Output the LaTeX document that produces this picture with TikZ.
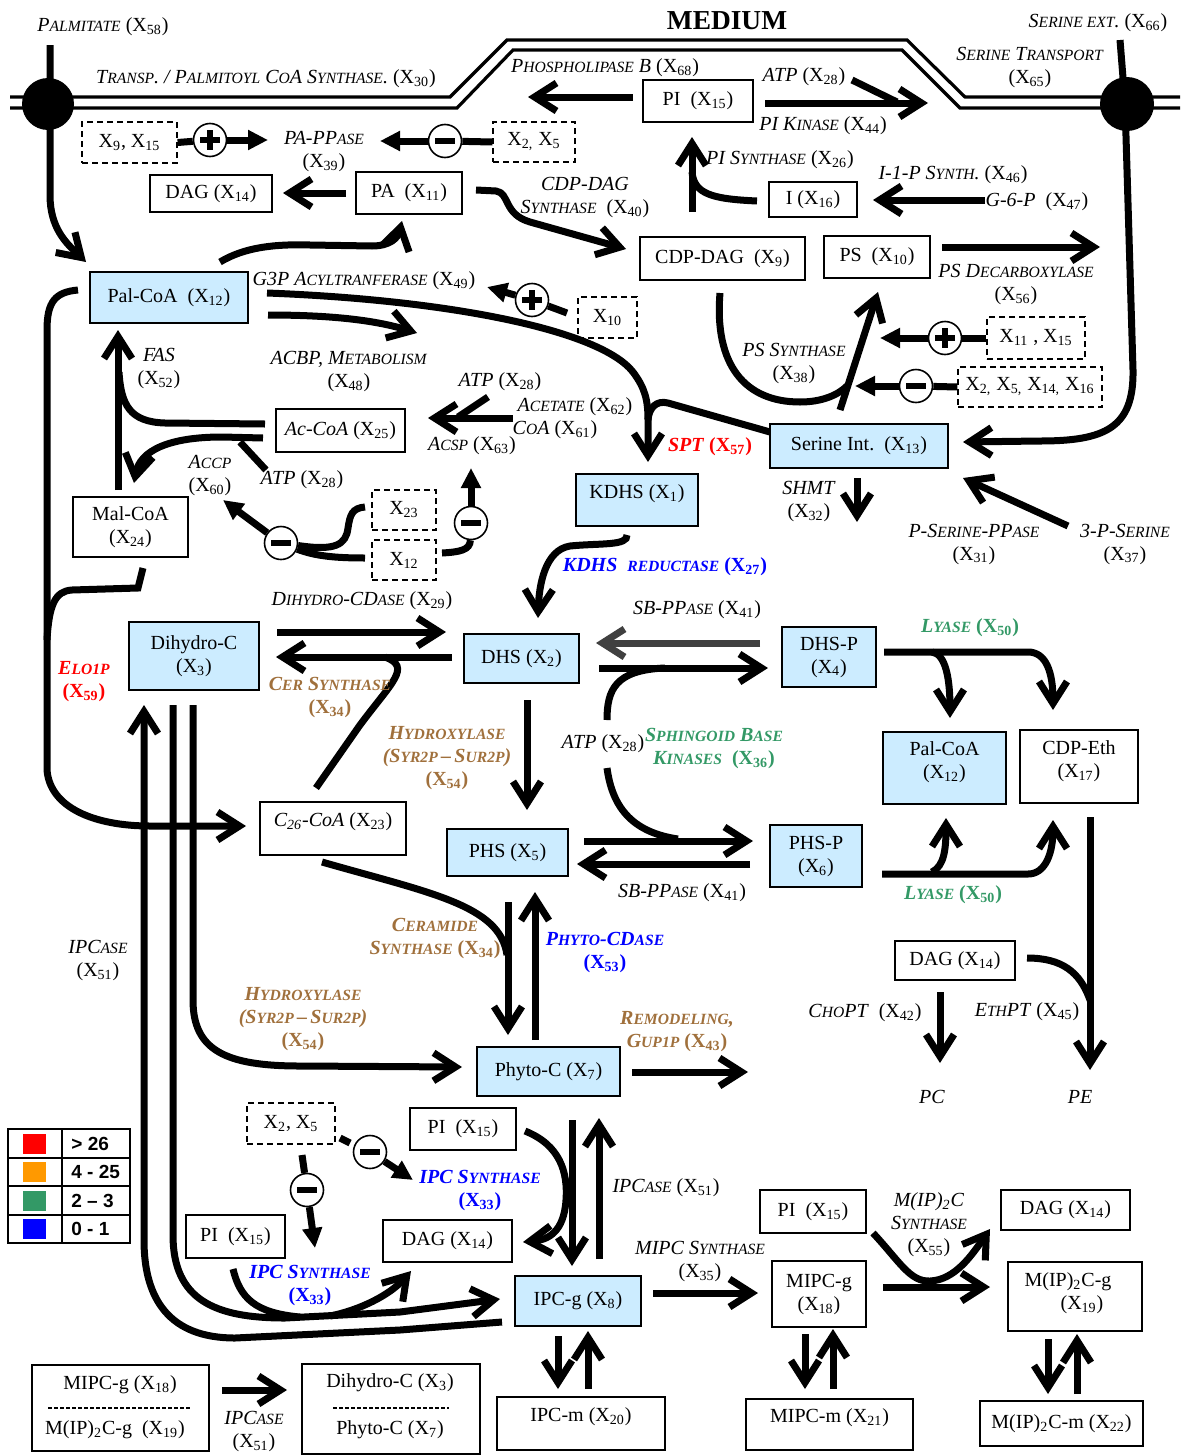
\documentclass[tikz,border=0pt]{standalone}
\usepackage{fontspec}
\setmainfont{Liberation Serif}
\newfontfamily\legfont{Liberation Sans}
\usetikzlibrary{arrows.meta,calc}
\definecolor{boxblue}{HTML}{CCECFF}
\definecolor{myred}{HTML}{FF0000}
\definecolor{mybrown}{HTML}{A0703C}
\definecolor{mygreen}{HTML}{339966}
\definecolor{myblue}{HTML}{0000FF}
\definecolor{myorange}{HTML}{FF9900}
\definecolor{mygray}{HTML}{404040}
\makeatletter
\newcommand\smc[1]{{\fontsize{\fpeval{0.78*\f@size}}{12}\selectfont\MakeUppercase{#1}}}
\makeatother
\newcommand\X[1]{\textup{X\textsubscript{#1}}}
\begin{document}
\begin{tikzpicture}[x=0.5pt,y=-0.5pt,
 wh/.style 2 args={minimum width=#1pt, minimum height=#2pt},
 boxfont/.style={font=\fontsize{10}{11.5}\selectfont},
 bx/.style={draw, line width=0.8pt, boxfont, align=center, inner sep=0pt},
 bbx/.style={bx, fill=boxblue},
 dbox/.style={draw, line width=0.6pt, dash pattern=on 3pt off 2pt, boxfont, inner sep=0pt},
 lab/.style={font=\fontsize{10}{11.5}\selectfont, align=center, inner sep=0pt},
 redlab/.style={lab, text=myred, font=\fontsize{10}{11.5}\selectfont\bfseries},
 bluelab/.style={lab, text=myblue, font=\fontsize{10}{11.5}\selectfont\bfseries},
 brownlab/.style={lab, text=mybrown, font=\fontsize{10}{11.5}\selectfont\bfseries},
 greenlab/.style={lab, text=mygreen, font=\fontsize{10}{11.5}\selectfont\bfseries},
 ln/.style={line width=3.5pt},
 ar/.style={line width=3.5pt, -{Straight Barb[length=11pt,width=14pt]}},
 tri/.style={line width=3.5pt, -{Triangle[length=10pt,width=9.5pt]}},
 pcirc/.style={circle, draw, line width=0.8pt, fill=white, minimum size=16.5pt, inner sep=0pt},
 plusc/.style={pcirc, path picture={\draw[line width=2.6pt] ([xshift=-4.8pt]path picture bounding box.center) -- ([xshift=4.8pt]path picture bounding box.center) ([yshift=-4.8pt]path picture bounding box.center) -- ([yshift=4.8pt]path picture bounding box.center);}},
 minusc/.style={pcirc, path picture={\draw[line width=2.8pt] ([xshift=-5pt]path picture bounding box.center) -- ([xshift=5pt]path picture bounding box.center);}},
 memb/.style={line width=1.6pt},
 legtext/.style={anchor=west, inner sep=0pt, font=\legfont\bfseries\fontsize{9.5}{10}\selectfont}
]
\useasboundingbox (0,0) rectangle (1180,1456);

% ---------- membrane ----------
\draw[memb] (10,97) -- (450,97) -- (507,40) -- (907,40) -- (965,97) -- (1180,97);
\draw[memb] (10,108) -- (457,108) -- (513,50) -- (902,50) -- (960,108) -- (1180,108);
\node[lab, font=\fontsize{13.7}{15}\selectfont\bfseries] (medium) at (727,21) {MEDIUM};

% ---------- boxes ----------
\node[bx, wh={55}{21}] (pi1) at (698,101) {PI~~(\X{15})};
\node[bx, wh={44}{17.5}] (i16) at (813,199.5) {I (\X{16})};
\node[bx, wh={82.5}{21.5}] (cdpdag) at (722.5,258.5) {CDP-DAG~~(\X{9})};
\node[bx, wh={53}{21}] (ps) at (877,257) {PS~~(\X{10})};
\node[bx, wh={61}{18.5}] (dag1) at (211,193.5) {DAG (\X{14})};
\node[bx, wh={53}{21}] (pa) at (409,193) {PA~~(\X{11})};
\node[bbx, wh={79}{25.5}] (palcoa) at (169,297.5) {Pal-CoA~~(\X{12})};
\node[bx, wh={64.5}{21.5}] (accoa) at (340.5,430.5) {\textit{Ac-CoA} (\X{25})};
\node[bx, wh={57.5}{30}] (malcoa) at (130.5,527) {Mal-CoA\\(\X{24})};
\node[bbx, wh={61}{26}, text height=7pt, text depth=9pt] (kdhs) at (637,500) {KDHS (\X{1})};
\node[bbx, wh={89}{22}] (serine) at (859,446) {Serine Int.~~(\X{13})};
\node[bbx, wh={57.5}{24.5}] (dhs) at (521.5,658.5) {DHS (\X{2})};
\node[bbx, wh={65}{34}] (dihydro) at (194,656) {Dihydro-C\\(\X{3})};
\node[bbx, wh={47}{30}] (dhsp) at (829,657) {DHS-P\\(\X{4})};
\node[bbx, wh={61.5}{36}] (palcoa2) at (944.5,768) {};
\node[lab] (palcoa2t) at (944.5,762) {Pal-CoA\\(\X{12})};
\node[bx, wh={59}{36.5}] (cdpeth) at (1079,766.5) {};
\node[lab] (cdpetht) at (1079,761) {CDP-Eth\\(\X{17})};
\node[bx, wh={73}{26.5}, text height=7pt, text depth=9pt] (c26) at (333,828.5) {\textit{C\textsubscript{26}-CoA} (\X{23})};
\node[bbx, wh={60.5}{23.5}] (phs) at (507.5,852.5) {PHS (\X{5})};
\node[bbx, wh={46}{31}] (phsp) at (816,856) {PHS-P\\(\X{6})};
\node[bx, wh={60}{19.5}] (dag2) at (955,960.5) {DAG (\X{14})};
\node[bbx, wh={71.5}{24.5}] (phyto) at (548.5,1071.5) {Phyto-C (\X{7})};
\node[bx, wh={53}{21}] (pi2) at (463,1129) {PI~~(\X{15})};
\node[bx, wh={64.5}{21}] (dag3) at (447.5,1241) {DAG (\X{14})};
\node[bbx, wh={63}{25}] (ipcg) at (578,1301) {IPC-g (\X{8})};
\node[bx, wh={49.5}{21.5}] (pi3) at (235.5,1236.5) {PI~~(\X{15})};
\node[bx, wh={53}{21.5}] (pi4) at (813,1211.5) {PI~~(\X{15})};
\node[bx, wh={47}{33}] (mipcg) at (819,1294) {MIPC-g\\(\X{18})};
\node[bx, wh={64.5}{20}] (dag4) at (1065.5,1210) {DAG (\X{14})};
\node[bx, wh={67}{34.5}] (mip2cg) at (1075,1296.5) {};
\node[lab] (mip2cgt) at (1068,1293) {M(IP)\textsubscript{2}C-g\\\hspace*{14pt}(\X{19})};
\node[bx, wh={84}{26.5}, text height=7pt, text depth=9pt] (ipcm) at (581,1423.5) {IPC-m (\X{20})};
\node[bx, wh={83.5}{25.5}, text height=7pt, text depth=9pt] (mipcm) at (829.5,1424.5) {MIPC-m (\X{21})};
\node[bx, wh={81.5}{22.5}] (mip2cm) at (1061.5,1423.5) {M(IP)\textsubscript{2}C-m (\X{22})};
\node[bx, wh={88.5}{43}] (bl1) at (120.5,1408) {};
\node[lab] (bl1a) at (120,1385) {MIPC-g (\X{18})};
\node[lab] (bl1b) at (115,1430) {M(IP)\textsubscript{2}C-g~~(\X{19})};
\draw[line width=0.6pt, dash pattern=on 2pt off 1pt] (48,1408) -- (190,1408);
\node[bx, wh={89}{45}] (bl2) at (391,1409) {};
\node[lab] (bl2a) at (390,1383) {Dihydro-C (\X{3})};
\node[lab] (bl2b) at (390,1430) {Phyto-C (\X{7})};
\draw[line width=0.6pt, dash pattern=on 2pt off 1pt] (333,1408) -- (449,1408);

% dashed boxes
\node[dbox, wh={47.5}{20.5}] (d1) at (129.5,142.5) {\X{9}, \X{15}};
\node[dbox, wh={41}{20}] (d2) at (534,142) {X\textsubscript{2,} \X{5}};
\node[dbox, wh={29.5}{20.5}] (d3) at (607.5,317.5) {\X{10}};
\node[dbox, wh={49}{21}] (d4) at (1036,338) {\X{11} , \X{15}};
\node[dbox, wh={72}{20}] (d5) at (1030,387) {X\textsubscript{2,} X\textsubscript{5,} X\textsubscript{14,} \X{16}};
\node[dbox, wh={32}{20}] (d6) at (404,510) {\X{23}};
\node[dbox, wh={32}{20}] (d7) at (404,560) {\X{12}};
\node[dbox, wh={44}{20.5}] (d8) at (291,1123.5) {X\textsubscript{2}, \X{5}};

% ---------- connectors ----------
% palmitate transport
\coordinate (palm0) at (50,45);
\draw[ar] (palm0) -- (50,195) .. controls (50,228) and (66,243) .. (86,262);
\node[circle, fill=black, minimum size=26pt, inner sep=0pt] (cl) at (48,104) {};
% serine transport
\coordinate (ser0) at (1120,40);
\draw[ar] (ser0) -- (1125,103) -- (1133,370) .. controls (1134,428) and (1105,441) .. (1040,441) -- (963,442);
\node[circle, fill=black, minimum size=27pt, inner sep=0pt] (cr) at (1127,104) {};

% PI reactions
\draw[ar] (633,97) -- (528,97);
\draw[ar] (765,103) -- (928,103);
\draw[ln] (852,80) -- (897,102);
\draw[ar] (692,212) -- (692,137);
\draw[ln] (757,201) .. controls (712,199) and (694,194) .. (692,172);
\draw[ar] (985,200) -- (873,200);
\draw[ar] (942,247) -- (1100,247);

% PA-PPase regulation
\node[plusc] (p1) at (210,140) {};
\node[minusc] (m1) at (445,141) {};
\draw[ln] (d1.east) -- (p1);
\draw[tri] (p1) -- (268,140);
\draw[ln] (d2.west) -- (m1);
\draw[tri] (m1) -- (380,141);
\draw[ar] (346,193) -- (283,193);
% CDP-DAG synthase
\draw[ar] (476,190) -- (496,191) .. controls (510,193) and (503,214) .. (530,222) -- (626,249);
% G3P acyltransferase
\draw[ar] (220,262) .. controls (245,247) and (275,244) .. (310,245) -- (372,246) .. controls (390,246) and (398,238) .. (402,221);
% ACBP
\draw[ar] (268,315) .. controls (330,315) and (375,320) .. (417,333);
% Pal-CoA -> KDHS (SPT)
\draw[ar] (267,293) .. controls (450,300) and (600,330) .. (633,372) .. controls (645,388) and (648,400) .. (648,420) -- (648,462);
\draw[ln] (770,432) -- (668,403) .. controls (656,400) and (649,408) .. (648,420);
\node[plusc] (p2) at (532,300) {};
\draw[ln] (567,313) -- (p2);
\draw[tri] (p2) -- (487,287);

% FAS
\draw[ar] (118,490) -- (118,330);
\draw[ln] (265,424) -- (165,423) .. controls (130,422) and (121,405) .. (119,372);
% ACCP
\draw[ar] (263,438) -- (222,437) .. controls (170,437) and (140,450) .. (134,483);
\draw[ln] (266,470) -- (240,442);
% Acetate
\draw[ar] (513,418) -- (428,418);
\draw[ln] (488,397) -- (458,417);
% regulators of ACSP and ACCP
\node[minusc] (m3) at (471,523) {};
\draw[ln] (442,553) .. controls (460,552) and (470,550) .. (m3);
\draw[tri] (m3) -- (471,468);
\node[minusc] (m4) at (281,543) {};
\draw[ln] (365,507) .. controls (352,508) and (350,515) .. (348,528) .. controls (346,545) and (335,551) .. (m4);
\draw[ln] (365,558) .. controls (335,558) and (315,556) .. (m4);
\draw[tri] (m4) -- (223,500);

% Elo1p
\draw[ar] (78,290) .. controls (55,292) and (47,302) .. (47,330) -- (47,770) .. controls (50,808) and (95,826) .. (150,826) -- (246,826);
\draw[ln] (143,568) -- (138,588) -- (72,590) .. controls (55,591) and (49,605) .. (47,640);

% KDHS reductase
\draw[ar] (627,535) .. controls (628,546) and (600,543) .. (570,546) .. controls (545,550) and (539,585) .. (538,618);
% SHMT, P-serine
\draw[ar] (857,478) -- (857,522);
\draw[ar] (1068,526) -- (963,478);
% PS synthase
\draw[ar] (840,410) -- (878,292);
\draw[ln] (720,293) .. controls (714,365) and (745,402) .. (800,402) .. controls (822,402) and (838,395) .. (847,386);
\node[plusc] (p3) at (945,338) {};
\node[minusc] (m2) at (916,386) {};
\draw[ln] (d4.west) -- (p3);
\draw[tri] (p3) -- (880,338);
\draw[ln] (d5.west) -- (m2);
\draw[tri] (m2) -- (855,386);

% Dihydro-C <-> DHS
\draw[ar] (277,632) -- (446,632);
\draw[ar] (452,657) -- (276,657);
\draw[ln] (316,788) -- (360,725) .. controls (392,682) and (412,667) .. (385,657);
% DHS -> PHS
\draw[ar] (527,700) -- (527,810);
% DHS <-> DHS-P
\draw[ar, draw=mygray] (760,643) -- (596,643);
\draw[ar] (599,668) -- (768,668);
\draw[ln] (607,720) .. controls (607,690) and (615,670) .. (665,668);
% PHS <-> PHS-P
\draw[ar] (584,841) -- (753,841);
\draw[ar] (750,864) -- (577,864);
\draw[ln] (607,768) .. controls (612,805) and (630,832) .. (678,839);
% Lyase
\draw[ar] (884,652) -- (1028,652) .. controls (1046,652) and (1053,672) .. (1053,710);
\draw[ar] (932,652) .. controls (946,654) and (950,680) .. (950,718);
\draw[ar] (882,874) -- (1028,874) .. controls (1046,874) and (1053,852) .. (1053,820);
\draw[ar] (932,872) .. controls (944,866) and (946,850) .. (946,818);
% PE / PC
\draw[ar] (1090,817) -- (1090,1070);
\draw[ln] (1027,958) .. controls (1062,958) and (1080,972) .. (1090,1000);
\draw[ar] (940,992) -- (940,1063);

% Ceramide synthase / phyto-CDase
\draw[ln] (322,862) .. controls (430,893) and (500,905) .. (507,955);
\draw[ar] (508,902) -- (508,1035);
\draw[ar] (535,1040) -- (535,892);
\draw[ar] (632,1072) -- (748,1072);

% left long lines
\draw[ar] (502,1322) -- (400,1330) -- (235,1338) .. controls (170,1338) and (144,1300) .. (144,1240) -- (144,705);
\draw[ar] (173,705) -- (173,1235) .. controls (173,1300) and (215,1318) .. (285,1318) -- (400,1312) -- (500,1299);
\draw[ln] (233,1269) .. controls (240,1298) and (255,1313) .. (300,1317);
\draw[ar] (330,1316) .. controls (360,1310) and (390,1295) .. (411,1271);
\draw[ar] (193,705) -- (193,1000) .. controls (193,1050) and (225,1066) .. (300,1066) -- (462,1067);

% IPC synthase (Phyto-C)
\draw[ar] (525,1131) .. controls (560,1145) and (568,1172) .. (566,1200) .. controls (564,1232) and (548,1240) .. (523,1242);
\draw[ar] (572,1120) -- (572,1266);
\draw[ar] (599,1259) -- (599,1118);
\node[minusc] (m5) at (370,1152) {};
\node[minusc] (m6) at (307,1190) {};
\draw[ln] (340,1138) -- (350,1143);
\draw[tri] (m5) -- (413,1180);
\draw[ln] (302,1155) -- (m6);
\draw[tri] (m6) -- (315,1248);

% MIPC / M(IP)2C
\draw[ar] (653,1293) -- (758,1293);
\draw[ar] (883,1287) -- (990,1287);
\draw[ar] (873,1233) .. controls (900,1262) and (910,1282) .. (930,1281) .. controls (955,1280) and (972,1255) .. (990,1229);
\draw[ar] (558,1336) -- (558,1389);
\draw[ar] (588,1389) -- (588,1331);
\draw[ar] (805,1334) -- (805,1389);
\draw[ar] (833,1389) -- (833,1329);
\draw[ar] (1048,1339) -- (1048,1394);
\draw[ar] (1077,1394) -- (1077,1334);
\draw[ar] (222,1390) -- (287,1390);

% ---------- labels ----------
\node[lab] (l1) at (103,27) {\textit{P\smc{almitate}} (\X{58})};
\node[lab] (l2) at (266,79) {\textit{T\smc{ransp}. / P\smc{almitoyl} C\smc{o}A S\smc{ynthase}.} (\X{30})};
\node[lab] (l3) at (605,68) {\textit{P\smc{hospholipase} B} (\X{68})};
\node[lab] (l4) at (804,77) {\textit{ATP} (\X{28})};
\node[lab] (l5) at (823,126) {\textit{PI K\smc{inase}} (\X{44})};
\node[lab] (l6) at (1098,23) {\textit{S\smc{erine ext}.} (\X{66})};
\node[lab] (l7) at (1030,68) {\textit{S\smc{erine} T\smc{ransport}}\\(\X{65})};
\node[lab] (l8) at (780,160) {\textit{PI S\smc{ynthase}} (\X{26})};
\node[lab] (l9) at (953,175) {\textit{I-1-P S\smc{ynth}.} (\X{46})};
\node[lab] (l10) at (1037,202) {\textit{G-6-P}~~(\X{47})};
\node[lab] (l11) at (1016,285) {\textit{PS D\smc{ecarboxylase}}\\(\X{56})};
\node[lab] (l12) at (324,152) {\textit{PA-PP\smc{ase}}\\(\X{39})};
\node[lab] (l13) at (585,198) {\textit{CDP-DAG}\\\textit{S\smc{ynthase}}~~(\X{40})};
\node[lab] (l14) at (364,281) {\textit{G3P A\smc{cyltranferase}} (\X{49})};
\node[lab] (l15) at (349,372) {\textit{ACBP, M\smc{etabolism}}\\(\X{48})};
\node[lab] (l16) at (159,369) {\textit{FAS}\\(\X{52})};
\node[lab] (l17) at (500,382) {\textit{ATP} (\X{28})};
\node[lab] (l18) at (575,407) {\textit{A\smc{cetate}} (\X{62})};
\node[lab] (l19) at (555,430) {\textit{C\smc{o}A} (\X{61})};
\node[lab] (l20) at (472,446) {\textit{A\smc{csp}} (\X{63})};
\node[lab] (l21) at (210,476) {\textit{A\smc{ccp}}\\(\X{60})};
\node[lab] (l22) at (302,480) {\textit{ATP} (\X{28})};
\node[redlab] (l23) at (710,447) {\textit{SPT} (\X{57})};
\node[lab] (l24) at (809,502) {\textit{SHMT}\\(\X{32})};
\node[lab] (l25) at (974,544) {\textit{P-S\smc{erine}-PP\smc{ase}}\\(\X{31})};
\node[lab] (l26) at (1125,544) {\textit{3-P-S\smc{erine}}\\(\X{37})};
\node[lab] (l27) at (794,364) {\textit{PS S\smc{ynthase}}\\(\X{38})};
\node[redlab] (l28) at (84,682) {\textit{E\smc{lo1p}}\\(\X{59})};
\node[bluelab] (l29) at (665,567) {\textit{KDHS~~\smc{reductase}} (\X{27})};
\node[lab] (l30) at (362,601) {\textit{D\smc{ihydro}-CD\smc{ase}} (\X{29})};
\node[brownlab] (l31) at (330,697) {\textit{C\smc{er} S\smc{ynthase}}\\(\X{34})};
\node[brownlab] (l32) at (447,758) {\textit{H\smc{ydroxylase}}\\\textit{(S\smc{yr2p}\,–\,S\smc{ur2p})}\\(\X{54})};
\node[lab] (l33) at (697,610) {\textit{SB-PP\smc{ase}} (\X{41})};
\node[lab] (l34) at (603,744) {\textit{ATP} (\X{28})};
\node[greenlab] (l35) at (714,748) {\textit{S\smc{phingoid} B\smc{ase}}\\\textit{K\smc{inases}}~~(\X{36})};
\node[lab] (l36) at (682,893) {\textit{SB-PP\smc{ase}} (\X{41})};
\node[greenlab] (l37) at (970,628) {\textit{L\smc{yase}} (\X{50})};
\node[greenlab] (l38) at (953,895) {\textit{L\smc{yase}} (\X{50})};
\node[lab] (l39) at (865,1013) {\textit{C\smc{ho}PT}~~(\X{42})};
\node[lab] (l40) at (1027,1012) {\textit{E\smc{th}PT} (\X{45})};
\node[lab] (l41) at (932,1097) {\textit{PC}};
\node[lab] (l42) at (1080,1097) {\textit{PE}};
\node[brownlab] (l43) at (435,938) {\textit{C\smc{eramide}}\\\textit{S\smc{ynthase}} (\X{34})};
\node[bluelab] (l44) at (605,952) {\textit{P\smc{hyto}-CD\smc{ase}}\\(\X{53})};
\node[brownlab] (l45) at (677,1032) {\textit{R\smc{emodeling},}\\\textit{G\smc{up1p}} (\X{43})};
\node[lab] (l46) at (98,960) {\textit{IPC\smc{ase}}\\(\X{51})};
\node[brownlab] (l47) at (303,1019) {\textit{H\smc{ydroxylase}}\\\textit{(S\smc{yr2p}\,–\,S\smc{ur2p})}\\(\X{54})};
\node[lab] (l48) at (666,1188) {\textit{IPC\smc{ase}} (\X{51})};
\node[bluelab] (l49) at (480,1190) {\textit{IPC S\smc{ynthase}}\\(\X{33})};
\node[bluelab] (l50) at (310,1285) {\textit{IPC S\smc{ynthase}}\\(\X{33})};
\node[lab] (l51) at (700,1261) {\textit{MIPC S\smc{ynthase}}\\(\X{35})};
\node[lab] (l52) at (929,1225) {\textit{M(IP)\textsubscript{2}C}\\\textit{S\smc{ynthase}}\\(\X{55})};
\node[lab] (l53) at (254,1431) {\textit{IPC\smc{ase}}\\(\X{51})};

% ---------- legend ----------
\draw[line width=1pt] (8,1129) rectangle (130,1243);
\draw[line width=1pt] (8,1158) -- (130,1158) (8,1186) -- (130,1186) (8,1215) -- (130,1215) (62,1129) -- (62,1243);
\node[fill=myred, minimum width=11.5pt, minimum height=10pt, inner sep=0pt] (lg1) at (34.5,1144) {};
\node[fill=myorange, minimum width=11.5pt, minimum height=10pt, inner sep=0pt] (lg2) at (34.5,1172) {};
\node[fill=mygreen, minimum width=11.5pt, minimum height=10pt, inner sep=0pt] (lg3) at (34.5,1200.5) {};
\node[fill=myblue, minimum width=11.5pt, minimum height=10pt, inner sep=0pt] (lg4) at (34.5,1229) {};
\node[legtext] (lt1) at (71,1144) {> 26};
\node[legtext] (lt2) at (71,1172) {4 - 25};
\node[legtext] (lt3) at (71,1200.5) {2 – 3};
\node[legtext] (lt4) at (71,1229) {0 - 1};
\end{tikzpicture}
\end{document}
